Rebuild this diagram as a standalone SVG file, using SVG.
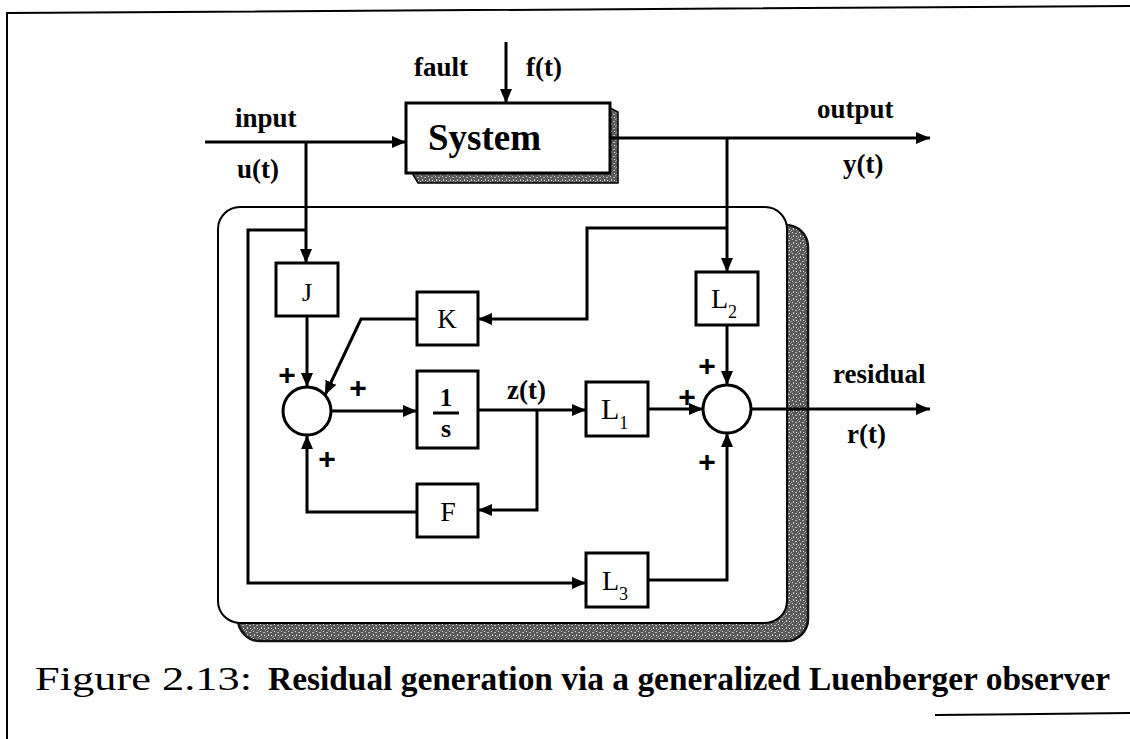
<svg xmlns="http://www.w3.org/2000/svg" width="1130" height="739" viewBox="0 0 1130 739">
<style>
.lbl{font-family:"Liberation Serif","Times New Roman",serif;font-weight:bold;font-size:27px;fill:#000}
.box{fill:#fff;stroke:#000;stroke-width:3}
.btx{font-family:"Liberation Serif","Times New Roman",serif;font-size:28px;fill:#000}
.sub{font-size:18px}
.con{fill:none;stroke:#000;stroke-width:3;stroke-linejoin:miter}
.arr{marker-end:url(#ah)}
.plus{font-family:"Liberation Sans",Arial,sans-serif;font-weight:bold;font-size:30px;fill:#000;text-anchor:middle}
.cap{font-family:"Liberation Serif","Times New Roman",serif;font-size:33px;fill:#000}
</style>
<defs>
<marker id="ah" markerUnits="userSpaceOnUse" markerWidth="14" markerHeight="12" refX="14" refY="6" orient="auto">
<path d="M0,0 L14,6 L0,12 z" fill="#000"/>
</marker>
<pattern id="speck" width="7" height="7" patternUnits="userSpaceOnUse">
<rect width="7" height="7" fill="#5a5a5a"/>
<rect x="1" y="1" width="1" height="1" fill="#ddd"/>
<rect x="4" y="2" width="2" height="1" fill="#bbb"/>
<rect x="2" y="4" width="1" height="2" fill="#ccc"/>
<rect x="5" y="5" width="1" height="1" fill="#eee"/>
<rect x="0" y="6" width="1" height="1" fill="#aaa"/>
<rect x="6" y="0" width="1" height="1" fill="#999"/>
</pattern>
</defs>
<rect width="1130" height="739" fill="#fff"/>
<g id="frame" fill="none" stroke="#000" stroke-width="2">
<path d="M7,739 L7,13 L1130,6"/>
<path d="M935,715 L1130,713"/>
</g>
<g id="observer-panel">
<rect x="238" y="225" width="570" height="416" rx="22" fill="url(#speck)" stroke="#111" stroke-width="2.5"/>
<rect x="218" y="207" width="569" height="416" rx="22" fill="#fff" stroke="#000" stroke-width="2"/>
</g>
<g id="system">
<path d="M412,173 L610,173 L610,108 L618,112 L618,183 L418,183 Z" fill="url(#speck)" stroke="#000" stroke-width="1.5"/>
<rect class="box" x="406" y="103" width="204" height="70"/>
<text class="lbl" x="428" y="150" style="font-size:37px">System</text>
</g>
<g id="connectors">
<path class="con arr" d="M205,142 L406,142"/>
<path class="con arr" d="M306,142 L306,263"/>
<path class="con arr" d="M306,230 L248,230 L248,583 L586,583"/>
<path class="con arr" d="M506,42 L506,103"/>
<path class="con arr" d="M610,138 L930,138"/>
<path class="con arr" d="M727,138 L727,272"/>
<path class="con arr" d="M727,228 L587,228 L587,319 L478,319"/>
<path class="con arr" d="M307,316 L307,387"/>
<path class="con arr" d="M417,319 L361,319 L325,395"/>
<path class="con arr" d="M331,411 L417,411"/>
<path class="con arr" d="M478,410 L586,410"/>
<path class="con arr" d="M537,410 L537,510 L478,510"/>
<path class="con arr" d="M417,512 L307,512 L307,435"/>
<path class="con arr" d="M648,409 L703,409"/>
<path class="con arr" d="M727,325 L727,385"/>
<path class="con arr" d="M648,580 L727,580 L727,433"/>
<path class="con arr" d="M751,409 L930,409"/>
</g>
<g id="J"><rect class="box" x="276" y="263" width="62" height="53"/><text class="btx" x="307" y="301" text-anchor="middle" style="font-size:26px">J</text></g>
<g id="K"><rect class="box" x="417" y="292" width="61" height="53"/><text class="btx" x="447" y="328" text-anchor="middle" style="font-size:27px">K</text></g>
<g id="integrator"><rect class="box" x="417" y="371" width="61" height="77"/>
<text class="lbl" x="446" y="406" text-anchor="middle" style="font-size:25px">1</text>
<line x1="433" y1="413" x2="459" y2="413" stroke="#000" stroke-width="3"/>
<text class="lbl" x="446" y="437" text-anchor="middle" style="font-size:26px">s</text></g>
<g id="F"><rect class="box" x="417" y="484" width="61" height="53"/><text class="btx" x="448" y="521" text-anchor="middle">F</text></g>
<g id="L1"><rect class="box" x="586" y="382" width="62" height="54"/><text class="btx" x="601" y="419" style="font-size:30px">L<tspan class="sub" dy="10">1</tspan></text></g>
<g id="L2"><rect class="box" x="696" y="272" width="62" height="53"/><text class="btx" x="711" y="308">L<tspan class="sub" dy="10">2</tspan></text></g>
<g id="L3"><rect class="box" x="586" y="553" width="62" height="54"/><text class="btx" x="602" y="590">L<tspan class="sub" dy="10">3</tspan></text></g>
<g id="sum1"><circle cx="307" cy="411" r="24" fill="#fff" stroke="#000" stroke-width="3"/></g>
<g id="sum2"><circle cx="727" cy="409" r="24" fill="#fff" stroke="#000" stroke-width="3"/></g>
<g id="signs">
<text class="plus" x="287" y="385">+</text>
<text class="plus" x="358" y="398">+</text>
<text class="plus" x="327" y="469">+</text>
<text class="plus" x="707" y="376">+</text>
<text class="plus" x="687" y="407">+</text>
<text class="plus" x="707" y="472">+</text>
</g>
<g id="labels">
<text class="lbl" x="235" y="127">input</text>
<text class="lbl" x="237" y="178">u(t)</text>
<text class="lbl" x="414" y="76">fault</text>
<text class="lbl" x="526" y="76">f(t)</text>
<text class="lbl" x="817" y="118">output</text>
<text class="lbl" x="843" y="173">y(t)</text>
<text class="lbl" x="507" y="399">z(t)</text>
<text class="lbl" x="833" y="383">residual</text>
<text class="lbl" x="847" y="443">r(t)</text>
</g>
<g id="caption">
<text class="cap" x="35" y="690" textLength="217" lengthAdjust="spacingAndGlyphs">Figure 2.13:</text>
<text class="cap" x="268" y="690" font-weight="bold" textLength="842" lengthAdjust="spacingAndGlyphs">Residual generation via a generalized Luenberger observer</text>
</g>
</svg>
